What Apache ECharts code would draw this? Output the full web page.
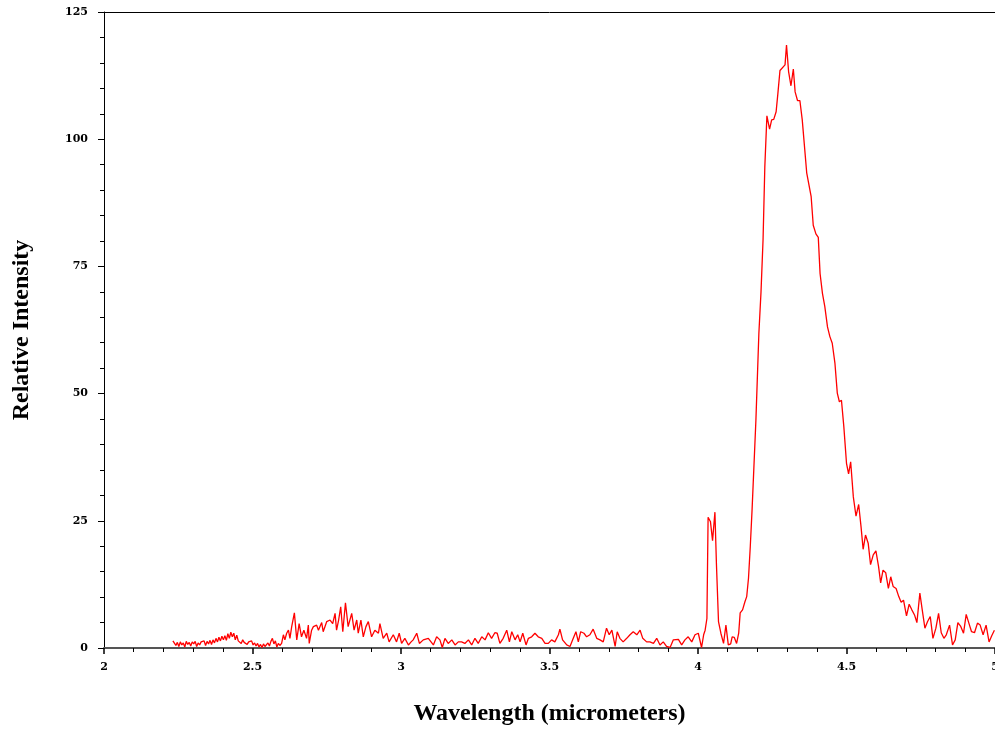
<!DOCTYPE html>
<html>
<head>
<meta charset="utf-8">
<script src="https://cdn.jsdelivr.net/npm/echarts@6/dist/echarts.min.js"></script>
<style>
html,body{margin:0;padding:0;background:#fff;overflow:hidden;}
#chart{width:995px;height:731px;}
</style>
</head>
<body>
<div id="chart"></div>
<script>
var xTitle = "Wavelength (micrometers)";
var yTitle = "Relative Intensity";
var xTicks = [2, 2.5, 3, 3.5, 4, 4.5, 5];
var yTicks = [0, 25, 50, 75, 100, 125];

var wavelength = [
2.232,2.237,2.242,2.247,2.252,2.257,2.262,2.267,2.272,2.277,2.282,2.287,2.292,2.297,2.302,2.307,2.312,2.317,2.322,2.327,2.332,2.337,2.342,2.347,2.352,2.357,2.362,2.367,2.372,
2.377,2.382,2.387,2.392,2.397,2.402,2.407,2.412,2.417,2.422,2.427,2.432,2.437,2.442,2.447,2.452,
2.457,2.462,2.467,2.472,2.477,2.482,2.487,2.492,2.497,2.502,2.507,
2.512,2.517,2.522,2.527,2.532,2.537,2.542,2.547,2.552,2.557,2.562,2.567,2.572,2.577,2.582,2.587,2.592,
2.598,2.604,2.609,2.615,2.621,2.626,2.632,2.641,2.649,2.657,2.665,2.673,2.682,2.688,2.691,2.699,2.705,2.716,2.722,2.733,2.738,2.750,2.761,2.770,2.778,
2.783,2.790,2.797,2.804,2.813,2.822,2.834,2.842,2.851,2.856,2.865,2.873,2.882,2.890,2.901,2.912,2.924,2.929,2.940,2.952,2.960,2.974,2.985,2.994,
3.002,3.013,3.025,3.034,3.041,3.053,3.062,3.075,3.092,
3.098,3.109,3.120,3.131,3.139,3.148,3.159,3.171,3.182,3.193,3.204,3.215,3.227,3.238,3.249,3.260,3.272,3.283,3.294,3.305,3.316,3.324,3.333,3.344,3.356,3.365,3.373,3.384,3.393,
3.401,3.410,3.421,3.429,3.440,3.451,3.462,3.474,3.485,3.496,3.507,3.518,3.530,3.535,3.544,3.558,3.569,3.578,3.589,3.597,
3.605,3.616,3.625,3.636,3.647,3.659,3.670,3.681,3.692,3.701,3.710,3.721,3.728,3.737,3.748,3.760,3.771,3.782,3.794,
3.805,3.814,3.827,3.838,3.850,3.861,3.872,3.883,3.894,3.906,3.917,3.934,3.945,3.956,3.967,3.979,3.990,
4.001,4.012,4.019,4.024,4.030,4.034,4.042,4.049,4.057,4.062,4.069,4.077,4.086,4.094,4.102,4.110,4.115,4.122,4.130,4.137,4.142,4.150,4.158,4.164,4.170,4.176,4.182,
4.195,4.205,4.212,4.219,4.225,4.232,4.241,4.248,4.255,4.263,4.269,4.276,4.293,4.298,4.305,4.313,4.321,4.327,4.335,4.343,4.351,4.366,4.372,4.381,4.388,4.397,
4.405,4.411,4.419,4.427,4.436,4.444,4.452,4.461,4.469,4.476,4.483,4.491,4.500,4.507,4.514,4.523,4.532,4.541,4.549,4.556,4.564,4.573,4.581,4.590,4.599,
4.608,4.615,4.623,4.632,4.641,4.649,4.657,4.667,4.676,4.684,4.692,4.702,4.711,4.720,4.729,4.737,4.747,4.755,4.764,4.773,4.782,4.791,
4.801,4.810,4.819,4.828,4.836,4.847,4.857,4.866,4.875,4.884,4.894,4.903,4.912,4.921,4.931,4.941,4.950,4.960,4.970,4.980,4.989,4.998
];

var intensity = [
1.4,1.2,0.5,1.1,0.3,1.2,0.6,1.0,0.2,1.3,0.7,1.1,0.4,1.2,0.8,1.3,0.3,1.0,0.6,1.2,0.9,1.4,0.5,1.3,0.8,1.5,0.7,1.6,1.0,
1.9,1.2,2.1,1.4,2.3,1.6,2.4,1.5,2.8,1.9,3.1,2.2,2.9,1.6,2.5,1.4,
1.5,0.9,1.6,1.1,1.4,0.7,1.2,0.9,1.4,0.6,1.0,
0.4,0.9,0.2,0.7,0.1,0.8,0.3,0.6,1.0,0.4,1.3,1.9,0.8,1.4,0.2,0.9,0.5,
0.9,2.6,1.6,2.9,3.5,1.9,4.2,6.9,1.6,4.8,2.2,3.5,1.9,4.5,0.9,3.5,4.2,4.5,3.5,5.0,3.2,5.2,5.5,4.8,6.8,
3.5,5.5,8.1,3.2,8.9,4.2,6.8,3.5,5.5,2.9,5.5,2.2,4.2,5.2,2.2,3.5,2.9,4.8,1.9,2.9,1.2,2.6,1.2,2.9,
0.9,1.9,0.6,1.2,1.6,2.9,0.9,1.6,1.9,
1.9,0.6,2.2,1.6,0.1,1.9,0.9,1.6,0.6,1.2,1.2,0.9,1.6,0.6,1.9,0.9,2.2,1.6,3.0,1.9,3.0,2.9,0.9,1.9,3.5,1.2,3.2,1.6,2.6,
1.2,2.9,0.6,1.9,2.2,2.9,2.2,1.9,0.9,0.9,1.6,1.2,2.6,3.7,1.6,0.6,0.3,1.6,3.2,1.2,
3.2,2.9,2.2,2.6,3.7,1.9,1.6,1.2,3.9,2.6,3.5,0.3,3.2,1.9,1.2,1.9,2.6,3.2,2.6,
3.5,1.9,1.2,1.2,0.9,1.9,0.6,1.2,0.3,0.1,1.6,1.7,0.6,1.6,2.2,1.2,2.6,
2.9,0.1,2.6,3.5,5.8,25.7,24.8,21.1,26.7,16.6,5.2,2.9,0.9,4.5,0.6,0.8,2.2,2.1,0.9,2.9,6.9,7.5,9.1,10.1,13.7,19.9,27.1,
44.8,61.9,69.8,80.2,94.6,104.6,102.0,103.8,103.9,105.4,109.0,113.5,114.6,118.5,113.3,110.5,113.8,109.3,107.6,107.6,103.8,93.4,93.3,88.7,83.1,81.4,
80.7,73.6,69.7,67.1,63.1,61.2,59.9,56.0,50.1,48.4,48.7,43.5,36.3,34.2,36.6,29.7,25.9,28.2,23.8,19.4,22.2,20.6,16.4,18.3,19.1,
16.0,12.8,15.3,14.8,11.7,14.0,12.1,11.7,10.1,9.0,9.4,6.3,8.6,7.5,6.5,5.0,10.8,7.5,3.9,5.2,6.2,1.9,
3.9,6.8,3.0,1.9,2.6,4.5,0.6,1.6,5.0,4.3,2.9,6.6,4.9,3.2,3.0,4.9,4.5,2.6,4.5,1.2,2.4,3.5
];

var points = wavelength.map(function (w, i) { return [w, intensity[i]]; });

var serifFont = '"Liberation Serif", "DejaVu Serif", serif';
var tickFont = '"DejaVu Serif", "Liberation Serif", serif';

var chart = echarts.init(document.getElementById('chart'), null, {renderer: 'canvas', width: 995, height: 731});
chart.setOption({
  animation: false,
  backgroundColor: '#ffffff',
  grid: {left: 104, right: 0, top: 12, bottom: 83, containLabel: false, outerBoundsMode: 'none'},
  xAxis: [{
    type: 'value',
    min: xTicks[0],
    max: xTicks[xTicks.length - 1],
    interval: 0.5,
    position: 'bottom',
    name: xTitle,
    nameLocation: 'middle',
    nameGap: 54,
    nameTextStyle: {fontFamily: serifFont, fontWeight: 'bold', fontSize: 24, color: '#000'},
    axisLine: {show: true, onZero: false, lineStyle: {color: '#555', width: 2}},
    axisTick: {show: true, inside: false, length: 6, lineStyle: {color: '#000', width: 1.5}},
    minorTick: {show: true, splitNumber: 5, length: 4, lineStyle: {color: '#000', width: 1}},
    splitLine: {show: false},
    minorSplitLine: {show: false},
    axisLabel: {
      show: true, margin: 14, color: '#000',
      fontFamily: tickFont, fontWeight: 'bold', fontSize: 11,
      formatter: function (v) { return String(v); }
    }
  }, {
    type: 'value',
    min: xTicks[0],
    max: xTicks[xTicks.length - 1],
    position: 'top',
    axisLine: {show: true, onZero: false, lineStyle: {color: '#000', width: 1}},
    axisTick: {show: false},
    axisLabel: {show: false},
    splitLine: {show: false}
  }],
  yAxis: {
    type: 'value',
    min: yTicks[0],
    max: yTicks[yTicks.length - 1],
    interval: 25,
    name: yTitle,
    nameLocation: 'middle',
    nameGap: 70,
    nameRotate: 90,
    nameTextStyle: {fontFamily: serifFont, fontWeight: 'bold', fontSize: 24, color: '#000'},
    axisLine: {show: true, onZero: false, lineStyle: {color: '#000', width: 1}},
    axisTick: {show: true, inside: false, length: 6, lineStyle: {color: '#000', width: 1}},
    minorTick: {show: true, splitNumber: 5, length: 4, lineStyle: {color: '#000', width: 1}},
    splitLine: {show: false},
    minorSplitLine: {show: false},
    axisLabel: {
      show: true, margin: 16, color: '#000',
      fontFamily: tickFont, fontWeight: 'bold', fontSize: 11
    }
  },
  series: [{
    type: 'line',
    xAxisIndex: 0,
    data: points,
    showSymbol: false,
    symbol: 'none',
    lineStyle: {color: '#ff0000', width: 1.3},
    itemStyle: {color: '#ff0000'},
    clip: true
  }]
});
</script>
</body>
</html>
